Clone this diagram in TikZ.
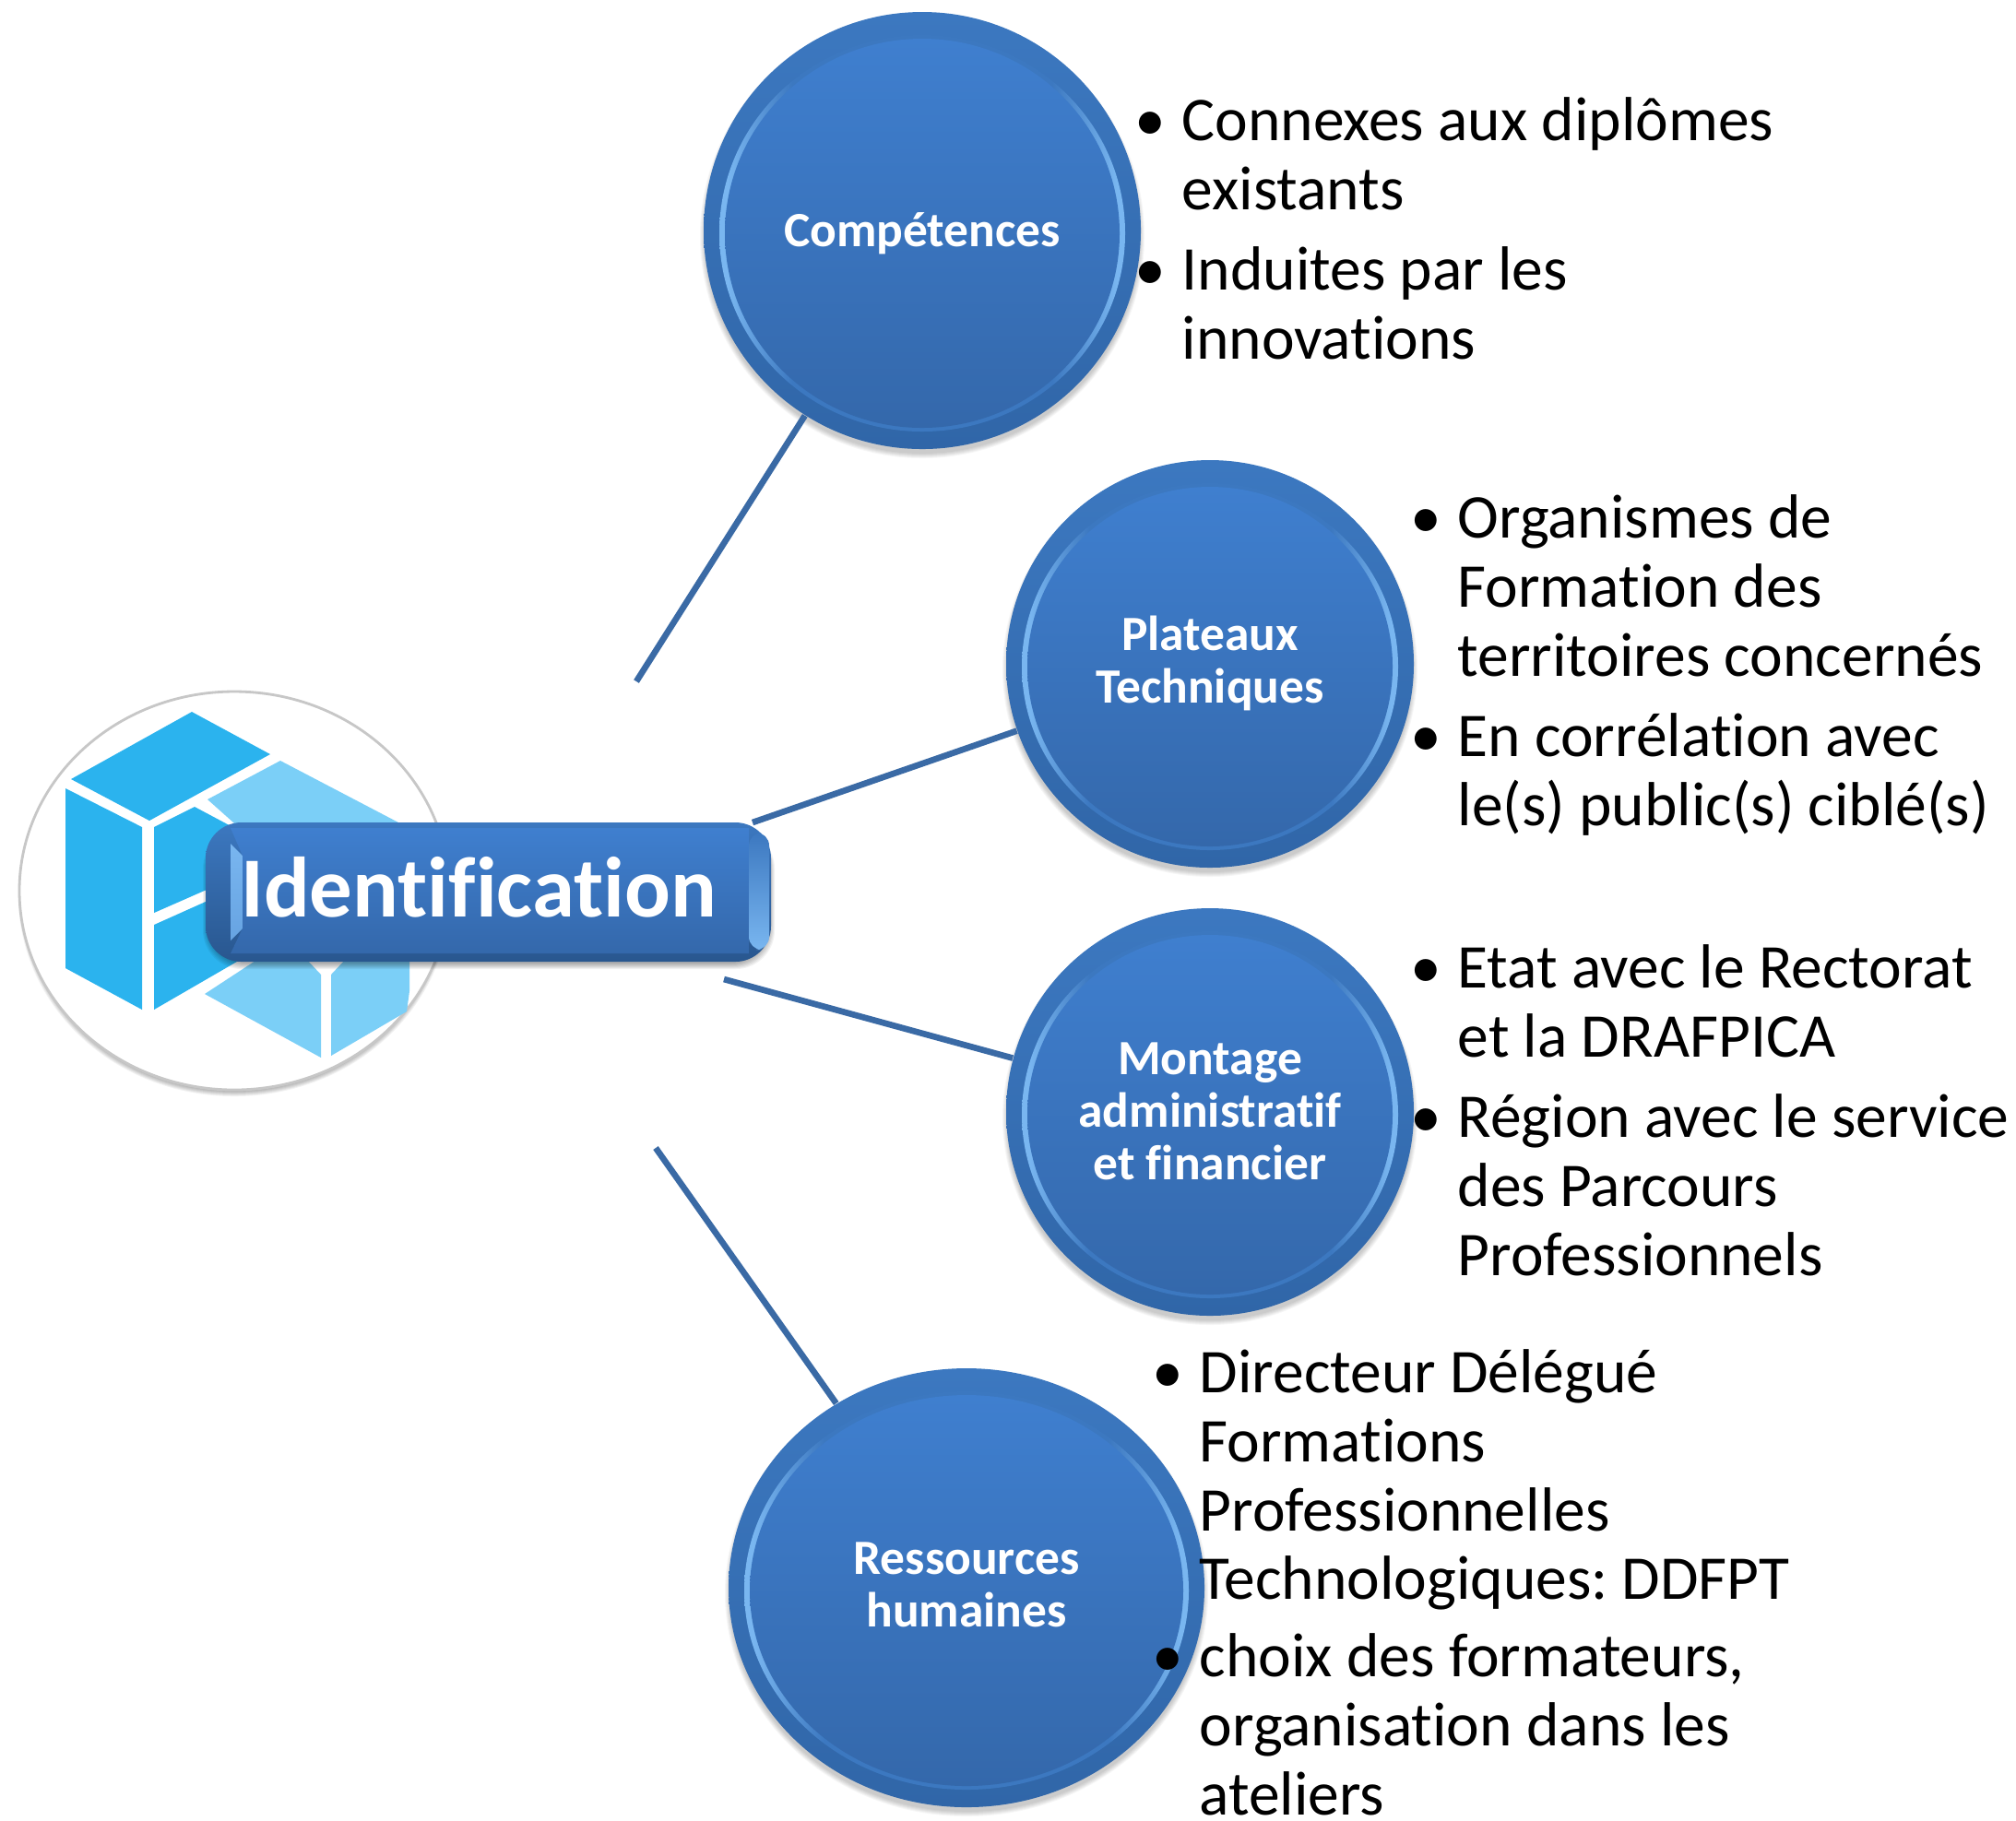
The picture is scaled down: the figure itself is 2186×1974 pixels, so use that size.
\documentclass[tikz,border=0pt]{standalone}
\usepackage{fontspec}
\setmainfont{Carlito}[Ligatures=NoCommon]
\usetikzlibrary{shapes.geometric}
\definecolor{bluetop}{HTML}{3F7FCF}
\definecolor{bluebot}{HTML}{3468AB}
\definecolor{rimlight}{HTML}{79B6F0}
\definecolor{rimout}{HTML}{3C78C0}
\definecolor{rimoutb}{HTML}{3066A8}
\definecolor{linkblue}{HTML}{3A6AA5}
\definecolor{logodark}{HTML}{2BB3EE}
\definecolor{logolight}{HTML}{7BCFF7}
\pgfdeclarehorizontalshading{rimshade}{100bp}{
  color(0bp)=(rimlight); color(26bp)=(rimlight); color(34bp)=(rimout);
  color(66bp)=(rimout); color(74bp)=(rimlight); color(100bp)=(rimlight)}
\tikzset{
  x=0.01cm, y=-0.01cm,
  bubble/.style={ellipse, inner sep=0pt},
  bubbletext/.style={inner sep=0pt, align=center, text=white,
    font=\fontsize{15.2}{16.2}\selectfont\bfseries},
  link/.style={draw=linkblue, line width=1.9pt},
  item/.style={anchor=north west, inner sep=0pt, align=left, text=black,
    font=\fontsize{19.2}{21.2}\selectfont\frenchspacing},
  logoa/.style={fill=logodark},
  logob/.style={fill=logolight},
}
\newcommand{\bul}{\strut\llap{•\hspace{0.26em}}}
% name, cx, cy, rx, ry, text offset, text
\newcommand{\bubblenode}[7]{%
  \foreach \i in {0,...,5}{\fill[black, opacity=0.035] (#2,#3+6) ellipse [x radius=#4-1+\i, y radius=#5-1+\i];}
  \shade[top color=rimout, bottom color=rimoutb] (#2,#3) ellipse [x radius=#4, y radius=#5];
  \shade[shading=rimshade] (#2,#3+3) ellipse [x radius=#4-17, y radius=#5-22];
  \shade[top color=bluetop, bottom color=bluebot] (#2,#3+3) ellipse [x radius=#4-23, y radius=#5-26];
  \node[bubble, minimum width=2*#4*0.01cm, minimum height=2*#5*0.01cm] (#1) at (#2,#3) {};
  \node[bubbletext] (#1t) at (#2,#3+#6) {#7};
}
\begin{document}
\begin{tikzpicture}
\useasboundingbox[fill=white] (0,0) rectangle (2186,1974);

% logo disc
\foreach \i in {0,...,5}{\fill[black, opacity=0.05] (254,972) ellipse [x radius=229+\i, y radius=212+\i];}
\fill[white, draw=black!22, line width=0.8pt] (254,966) ellipse [x radius=233, y radius=216];
\fill[logoa] (208,772) -- (293,818) -- (162,890) -- (77,845) -- cycle;
\fill[logoa] (71,855) -- (154,897) -- (154,1095) -- (71,1050) -- cycle;
\fill[logoa] (167,897) -- (211,875) -- (258,900) -- (258,950) -- (167,990) -- cycle;
\fill[logoa] (167,1003) -- (225,977) -- (262,1040) -- (167,1095) -- cycle;
\fill[logob] (304,825) -- (432,892) -- (432,900) -- (262,900) -- (225,867) -- cycle;
\fill[logob] (222,1078) -- (280,1040) -- (332,1040) -- (348,1057) -- (348,1147) -- cycle;
\fill[logob] (359,1057) -- (375,1040) -- (444,1040) -- (444,1075) -- (441,1097) -- (359,1145) -- cycle;

% title box
\foreach \i in {0,...,6}{\fill[black, opacity=0.05, rounded corners=12] (226-\i,900) rectangle (834+\i,1045+\i);}
\shade[top color=rimout, bottom color=rimoutb!85!black, rounded corners=11] (223,892) rectangle (836,1043);
\shade[top color=rimlight, bottom color=rimlight!70!rimout] (250,915) -- (263,928) -- (263,1007) -- (250,1020) -- cycle;
\shade[top color=rimout, bottom color=rimlight, rounded corners=4] (812,903) -- (834,903) -- (834,1030) -- (812,1030) -- cycle;
\shade[top color=bluetop, bottom color=bluebot] (250,898) -- (812,898) -- (812,1034) -- (250,1034) -- (263,1007) -- (263,928) -- cycle;
\node[inner sep=0pt, text=white, font=\fontsize{26.4}{30}\selectfont\bfseries] (ident) at (519,962) {Identification};

% circles
\bubblenode{comp}{1000}{250}{237}{237}{3}{Compétences}
\bubblenode{plat}{1312}{720}{221}{221}{-1}{Plateaux\\Techniques}
\bubblenode{mont}{1312}{1206}{221}{221}{-1}{Montage\\administratif\\et financier}
\bubblenode{ress}{1048}{1722}{258}{238}{-3}{Ressources\\humaines}

% connectors with free ends
\coordinate (e1) at (690,739);
\coordinate (e2) at (816,892);
\coordinate (e3) at (785,1062);
\coordinate (e4) at (711,1245);
\draw[link] (e1) -- (comp);
\draw[link] (e2) -- (plat);
\draw[link] (e3) -- (mont);
\draw[link] (e4) -- (ress);

% bullet lists
\node[item] (t1) at (1281,100) {\bul Connexes aux diplômes\\existants};
\node[item] (t2) at (1281,262) {\bul Induites par les\\innovations};
\node[item] (t3) at (1580,531) {\bul Organismes de\\Formation des\\territoires concernés};
\node[item] (t4) at (1580,768) {\bul En corrélation avec\\le(s) public(s) ciblé(s)};
\node[item] (t5) at (1580,1019) {\bul Etat avec le Rectorat\\et la DRAFPICA};
\node[item] (t6) at (1580,1181) {\bul Région avec le service\\des Parcours\\Professionnels};
\node[item] (t7) at (1300,1458) {\bul Directeur Délégué\\Formations\\Professionnelles\\Technologiques: DDFPT};
\node[item] (t8) at (1300,1766) {\bul choix des formateurs,\\organisation dans les\\ateliers};
\end{tikzpicture}
\end{document}
